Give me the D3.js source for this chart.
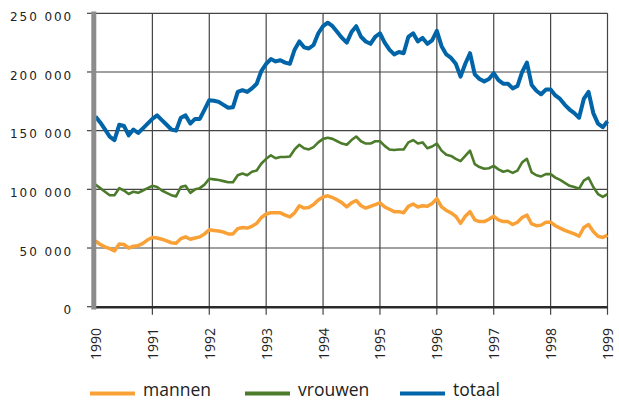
<!DOCTYPE html>
<html>
<head>
<meta charset="utf-8">
<script src="https://cdn.jsdelivr.net/npm/d3@7"></script>
<style>
  body { margin: 0; background: #fff; }
  svg { display: block; }
</style>
</head>
<body>
<div id="chart"></div>
<script>
const years = [1990, 1991, 1992, 1993, 1994, 1995, 1996, 1997, 1998, 1999];
const yTicks = [0, 50000, 100000, 150000, 200000, 250000];

// monthly values in thousands, Jan 1990 .. Jan 1999
const mannen = [
  56, 53, 51, 49.5, 47.5, 53.5, 53, 50, 51.5, 52, 54, 57,
  59, 58.5, 57.5, 56, 54.5, 54, 58, 59.5, 57.5, 58.5, 59.5, 62,
  65.5, 65, 64.5, 63.5, 62, 62, 66.5, 67.5, 67, 68.5, 71, 76,
  79, 80, 80, 80, 78, 76.5, 80, 86, 84, 84.5, 87, 91,
  93.5, 94.5, 93, 91, 88.5, 85, 88.5, 90.5, 86, 84, 85.5, 87,
  88.5, 85, 83, 81, 81, 80, 85.5, 87.5, 85, 86, 85.5, 88,
  92, 85, 82, 80, 77, 71, 77, 81, 74, 72.5, 72.5, 74.5,
  77, 74, 72.5, 72.5, 70, 72, 76, 78, 70.5, 69, 69.5, 72,
  72, 69, 67, 65, 63.5, 62, 60, 67.5, 70, 64, 60, 59,
  61
];
const vrouwen = [
  104, 101, 98, 95, 95, 101, 99, 96, 98, 97, 99, 101,
  103, 102, 99, 97, 95, 94, 102, 103, 97, 100, 101, 104,
  109, 108.5, 108, 107, 106, 106, 112, 113.5, 112, 115, 116, 122,
  126, 129, 126.5, 127.5, 127.5, 128, 134, 138, 135, 134, 136, 140,
  143, 144, 143, 141, 139, 138, 142, 145, 141, 139, 139, 141,
  141, 137, 134, 133.5, 134, 134, 140, 142, 139, 140, 135, 136.5,
  139, 133, 129.5, 128.5, 126, 124, 128.5, 133, 121.5, 119, 117.5, 118,
  120, 117, 115, 116, 114, 116, 123, 126, 114.5, 112, 111, 113,
  113, 110, 108, 105.5, 103, 102, 100.5, 107.5, 110, 102, 96, 93.5,
  96
];
const totaal = [
  162, 157, 151, 145, 142, 155, 154, 146, 151, 148, 152, 156,
  160, 163, 159, 155, 151, 150, 161, 163, 156, 160, 160, 168,
  176, 175.5, 174.5, 172, 169.5, 170, 183, 184.5, 183, 186, 190, 201,
  207, 211, 209, 210, 208, 207, 219, 226, 221, 220, 223, 233,
  239, 242, 239, 234, 229, 225, 234, 239, 230, 226, 224, 230,
  233, 225, 219, 215, 217, 216, 230, 233, 226, 229, 224, 227,
  235, 222, 215, 212, 207, 196, 207, 216, 198, 194, 192, 194,
  199, 193, 190, 190, 186, 188, 200, 208, 189, 184, 181, 185,
  185, 180, 177, 172, 168, 165, 161, 177, 183, 165, 156, 153,
  158
];

const series = [
  { name: 'mannen', values: mannen, color: '#f9a136', width: 3.5 },
  { name: 'vrouwen', values: vrouwen, color: '#4b7b2b', width: 2.6 },
  { name: 'totaal', values: totaal, color: '#0064a8', width: 4 },
];

const width = 619, height = 401;
const plot = { left: 95.5, right: 607.5, top: 13.3, bottom: 306.7 };

const svg = d3.select('#chart').append('svg')
  .attr('width', width)
  .attr('height', height);

const x = d3.scaleLinear().domain([1990, 1999]).range([plot.left, plot.right]);
const y = d3.scaleLinear().domain([0, 250000]).range([plot.bottom, plot.top]);

// horizontal gridlines
svg.append('g')
  .selectAll('line')
  .data(yTicks.filter(d => d > 0))
  .join('line')
  .attr('x1', plot.left).attr('x2', plot.right)
  .attr('y1', d => y(d)).attr('y2', d => y(d))
  .attr('stroke', '#444').attr('stroke-width', 1.2);

// vertical gridlines, running a bit below the axis as ticks
svg.append('g')
  .selectAll('line')
  .data(years.slice(1))
  .join('line')
  .attr('x1', d => x(d)).attr('x2', d => x(d))
  .attr('y1', plot.top).attr('y2', plot.bottom + 8)
  .attr('stroke', '#444').attr('stroke-width', 1.2);

// y tick marks
svg.append('g')
  .selectAll('line')
  .data(yTicks)
  .join('line')
  .attr('x1', 87).attr('x2', 93)
  .attr('y1', d => y(d)).attr('y2', d => y(d))
  .attr('stroke', '#444').attr('stroke-width', 1.2);

// y labels
svg.append('g')
  .selectAll('text')
  .data(yTicks)
  .join('text')
  .attr('x', 73)
  .attr('y', d => y(d) + 7.7)
  .attr('text-anchor', 'end')
  .attr('font-family', 'DejaVu Sans')
  .attr('font-size', 12)
  .attr('letter-spacing', 1.9)
  .attr('fill', '#222')
  .text(d => d === 0 ? '0' : d3.format(',')(d).replace(',', ' '));

// x labels
svg.append('g')
  .selectAll('text')
  .data(years)
  .join('text')
  .attr('transform', d => `translate(${x(d) + 5.5},328) rotate(-90)`)
  .attr('text-anchor', 'end')
  .attr('font-family', 'Open Sans')
  .attr('font-size', 14)
  .attr('fill', '#222')
  .text(d => d);

// series
const line = d3.line()
  .x((d, i) => x(1990 + i / 12))
  .y(d => y(d * 1000));

svg.append('g')
  .selectAll('path')
  .data(series)
  .join('path')
  .attr('d', d => line(d.values))
  .attr('fill', 'none')
  .attr('stroke', d => d.color)
  .attr('stroke-width', d => d.width)
  .attr('stroke-linejoin', 'round');

// axes
svg.append('line')
  .attr('x1', 94).attr('x2', plot.right)
  .attr('y1', plot.bottom + 0.6).attr('y2', plot.bottom + 0.6)
  .attr('stroke', '#2a2a2a').attr('stroke-width', 2.6);

svg.append('line')
  .attr('x1', 93.8).attr('x2', 93.8)
  .attr('y1', 11.5).attr('y2', 309.5)
  .attr('stroke', '#8c8c8c').attr('stroke-width', 5);

// legend
const legendX = [90, 245, 400];
const legend = svg.append('g')
  .selectAll('g')
  .data(series)
  .join('g')
  .attr('transform', (d, i) => `translate(${legendX[i]},393.5)`);

legend.append('line')
  .attr('x1', 0).attr('x2', 45)
  .attr('stroke', d => d.color)
  .attr('stroke-width', 4);

legend.append('text')
  .attr('x', 53)
  .attr('y', 2)
  .attr('font-family', 'Open Sans')
  .attr('font-size', 17.5)
  .attr('fill', '#222')
  .text(d => d.name);
</script>
</body>
</html>
